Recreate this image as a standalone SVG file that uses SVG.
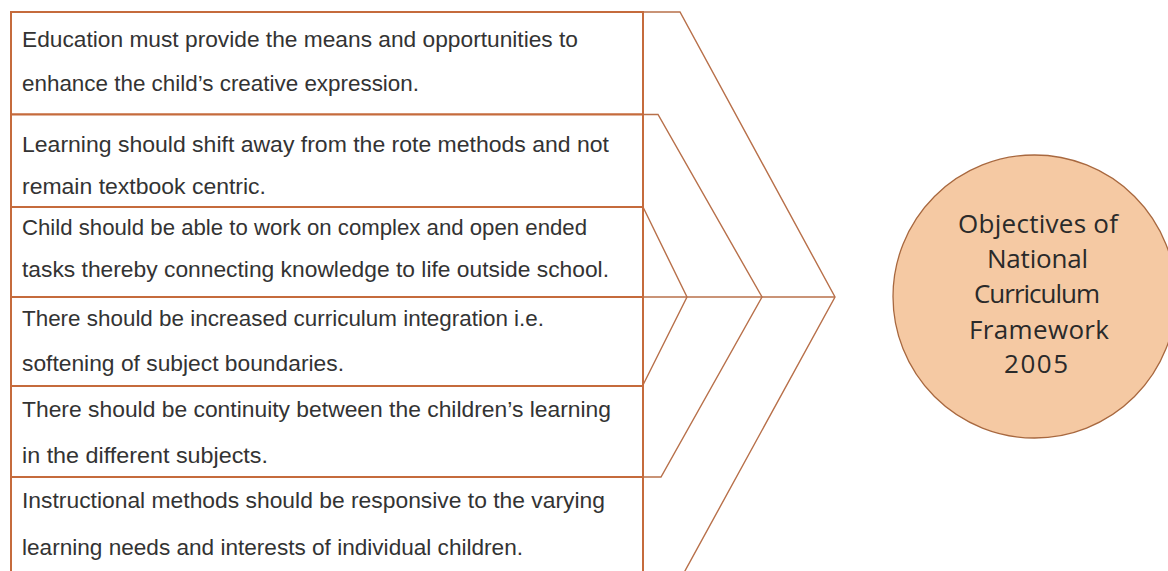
<svg xmlns="http://www.w3.org/2000/svg" width="1168" height="571" viewBox="0 0 1168 571">
<style>
.box{fill:#ffffff;stroke:#c56b3c;stroke-width:2}
.t{font-family:"Liberation Sans",Arial,sans-serif;font-size:22.8px;fill:#333333}
.c{font-family:"Open Sans","Liberation Sans",sans-serif;font-size:26px;fill:#2a2a2a;text-anchor:middle}
.conn{fill:none;stroke:#b8704a;stroke-width:1.4;stroke-linejoin:miter}
.hub{fill:#f5c9a3;stroke:#a8683f;stroke-width:1.3}
</style>
<rect width="1168" height="571" fill="#ffffff"/>
<g id="connectors">
<polyline class="conn" points="643,12 680,12 835,297 680,580"/>
<polyline class="conn" points="643,114.5 658,114.5 762,297 661,477 643,477"/>
<polyline class="conn" points="643,207 687,297 643,385"/>
<line class="conn" x1="643" y1="297" x2="835" y2="297"/>
</g>
<g id="box1">
<rect class="box" x="11" y="12" width="632" height="102.5"/>
<text class="t" x="22" y="47" textLength="556" lengthAdjust="spacingAndGlyphs">Education must provide the means and opportunities to</text>
<text class="t" x="22" y="91" textLength="397" lengthAdjust="spacingAndGlyphs">enhance the child’s creative expression.</text>
</g>
<g id="box2">
<rect class="box" x="11" y="114.5" width="632" height="92.5"/>
<text class="t" x="22" y="152" textLength="587" lengthAdjust="spacingAndGlyphs">Learning should shift away from the rote methods and not</text>
<text class="t" x="22" y="194" textLength="244" lengthAdjust="spacingAndGlyphs">remain textbook centric.</text>
</g>
<g id="box3">
<rect class="box" x="11" y="207" width="632" height="90"/>
<text class="t" x="22" y="235" textLength="565" lengthAdjust="spacingAndGlyphs">Child should be able to work on complex and open ended</text>
<text class="t" x="22" y="277" textLength="587" lengthAdjust="spacingAndGlyphs">tasks thereby connecting knowledge to life outside school.</text>
</g>
<g id="box4">
<rect class="box" x="11" y="297" width="632" height="89"/>
<text class="t" x="22" y="326" textLength="522" lengthAdjust="spacingAndGlyphs">There should be increased curriculum integration i.e.</text>
<text class="t" x="22" y="371" textLength="322" lengthAdjust="spacingAndGlyphs">softening of subject boundaries.</text>
</g>
<g id="box5">
<rect class="box" x="11" y="386" width="632" height="91"/>
<text class="t" x="22" y="417" textLength="589" lengthAdjust="spacingAndGlyphs">There should be continuity between the children’s learning</text>
<text class="t" x="22" y="463" textLength="246" lengthAdjust="spacingAndGlyphs">in the different subjects.</text>
</g>
<g id="box6">
<rect class="box" x="11" y="477" width="632" height="110"/>
<text class="t" x="22" y="508" textLength="583" lengthAdjust="spacingAndGlyphs">Instructional methods should be responsive to the varying</text>
<text class="t" x="22" y="555" textLength="501" lengthAdjust="spacingAndGlyphs">learning needs and interests of individual children.</text>
</g>
<g id="hub">
<circle class="hub" cx="1034.5" cy="296.5" r="141.5"/>
<text class="c" x="1038" y="233" textLength="160" lengthAdjust="spacing">Objectives of</text>
<text class="c" x="1037.5" y="268" textLength="101" lengthAdjust="spacing">National</text>
<text class="c" x="1037" y="303" textLength="126" lengthAdjust="spacing">Curriculum</text>
<text class="c" x="1039" y="339" textLength="140" lengthAdjust="spacing">Framework</text>
<text class="c" x="1036" y="373" textLength="64" lengthAdjust="spacing">2005</text>
</g>
</svg>
